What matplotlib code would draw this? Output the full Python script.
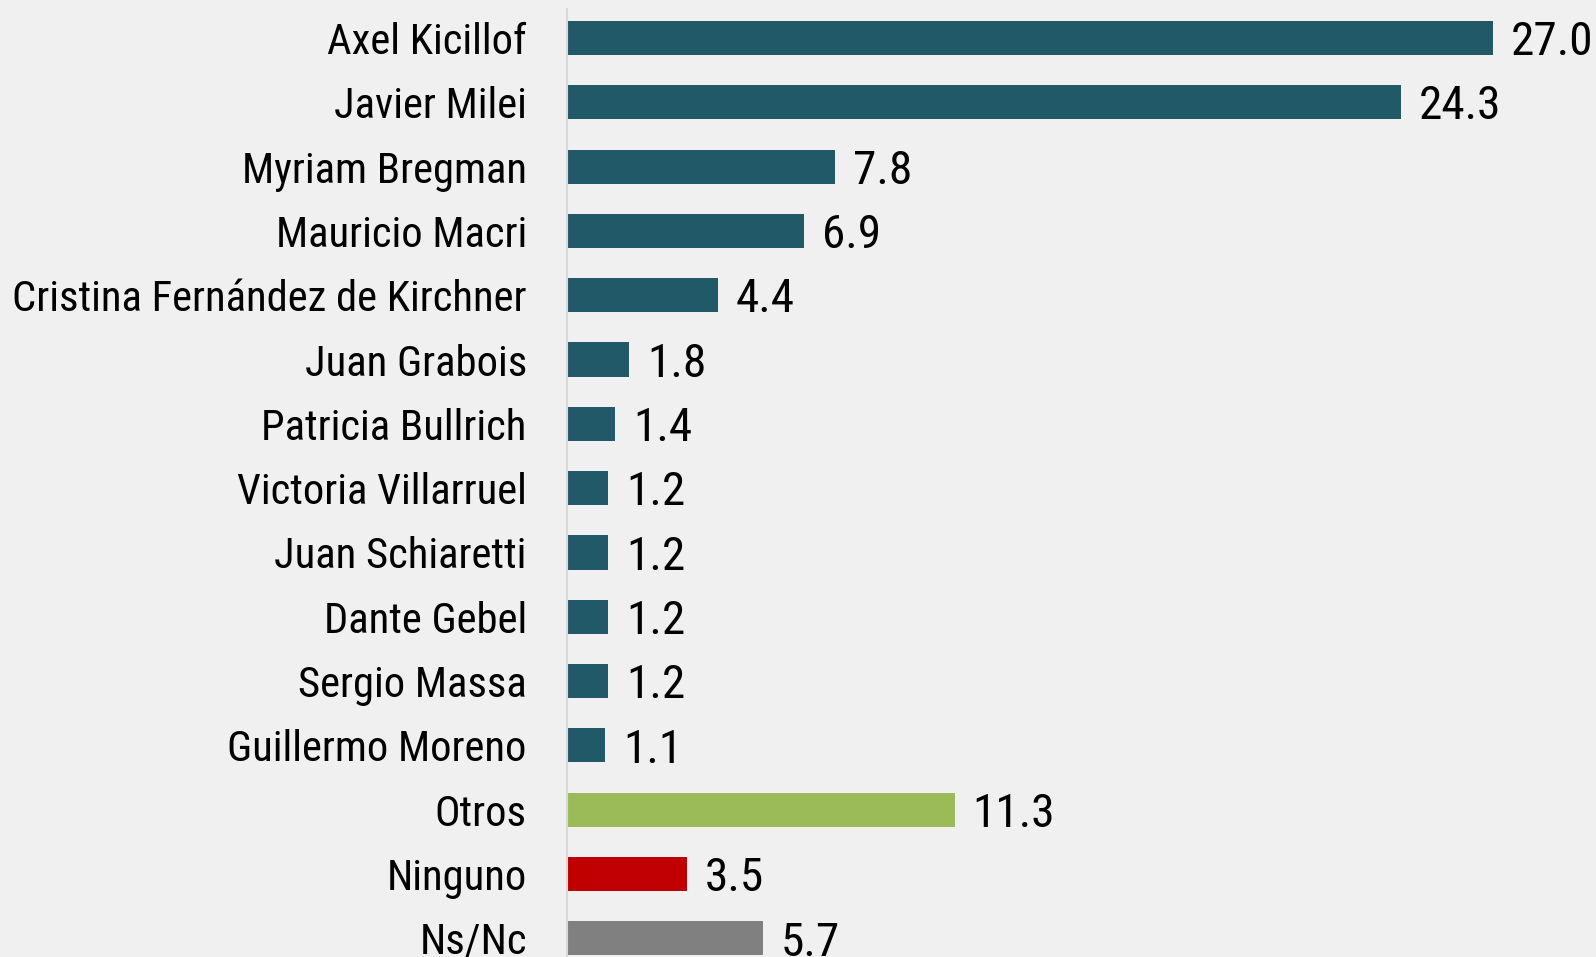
import matplotlib
matplotlib.use("Agg")
import matplotlib.pyplot as plt
from matplotlib import font_manager

# Données
candidatos = ["Axel Kicillof", "Javier Milei", "Myriam Bregman", "Mauricio Macri",
              "Cristina Fernández de Kirchner", "Juan Grabois", "Patricia Bullrich",
              "Victoria Villarruel", "Juan Schiaretti", "Dante Gebel", "Sergio Massa",
              "Guillermo Moreno", "Otros", "Ninguno", "Ns/Nc"]
valores = [27.0, 24.3, 7.8, 6.9, 4.4, 1.8, 1.4, 1.2, 1.2, 1.2, 1.2, 1.1, 11.3, 3.5, 5.7]
colores = ["#215968"] * 12 + ["#9bbb59", "#c00000", "#808080"]

# Police Roboto Condensed (fichier statique Regular si présent)
fichier = None
for f in font_manager.fontManager.ttflist:
    if f.fname.endswith("RobotoCondensed-Regular.ttf"):
        fichier = f.fname
if fichier:
    fp_lab = font_manager.FontProperties(fname=fichier, size=30.7)
    fp_val = font_manager.FontProperties(fname=fichier, size=34)
else:
    fp_lab = font_manager.FontProperties(family="DejaVu Sans", stretch="condensed", size=25)
    fp_val = font_manager.FontProperties(family="DejaVu Sans", stretch="condensed", size=28)

fig = plt.figure(figsize=(15.96, 9.57), dpi=100, facecolor="#f0f0f0")
ax = fig.add_axes([0.3553, 0.0, 0.6447, 0.9906])
ax.set_facecolor("#f0f0f0")

pos = list(range(len(candidatos)))
ax.barh(pos, valores, height=0.53, color=colores)

for y, v in zip(pos, valores):
    ax.annotate(f"{v:.1f}", (v, y), xytext=(13, -3), textcoords="offset points",
                va="center", ha="left", fontproperties=fp_val, color="black")

ax.set_xlim(0, 30)
ax.set_ylim(14.29, -0.45)
ax.set_yticks(pos)
ax.set_yticklabels(candidatos, fontproperties=fp_lab)
ax.tick_params(axis="y", length=0, pad=29)
ax.set_xticks([])

for s in ["top", "right", "bottom"]:
    ax.spines[s].set_visible(False)
ax.spines["left"].set_color("#d9d9d9")
ax.spines["left"].set_linewidth(1.5)

fig.savefig("out.png", dpi=100, facecolor=fig.get_facecolor())
